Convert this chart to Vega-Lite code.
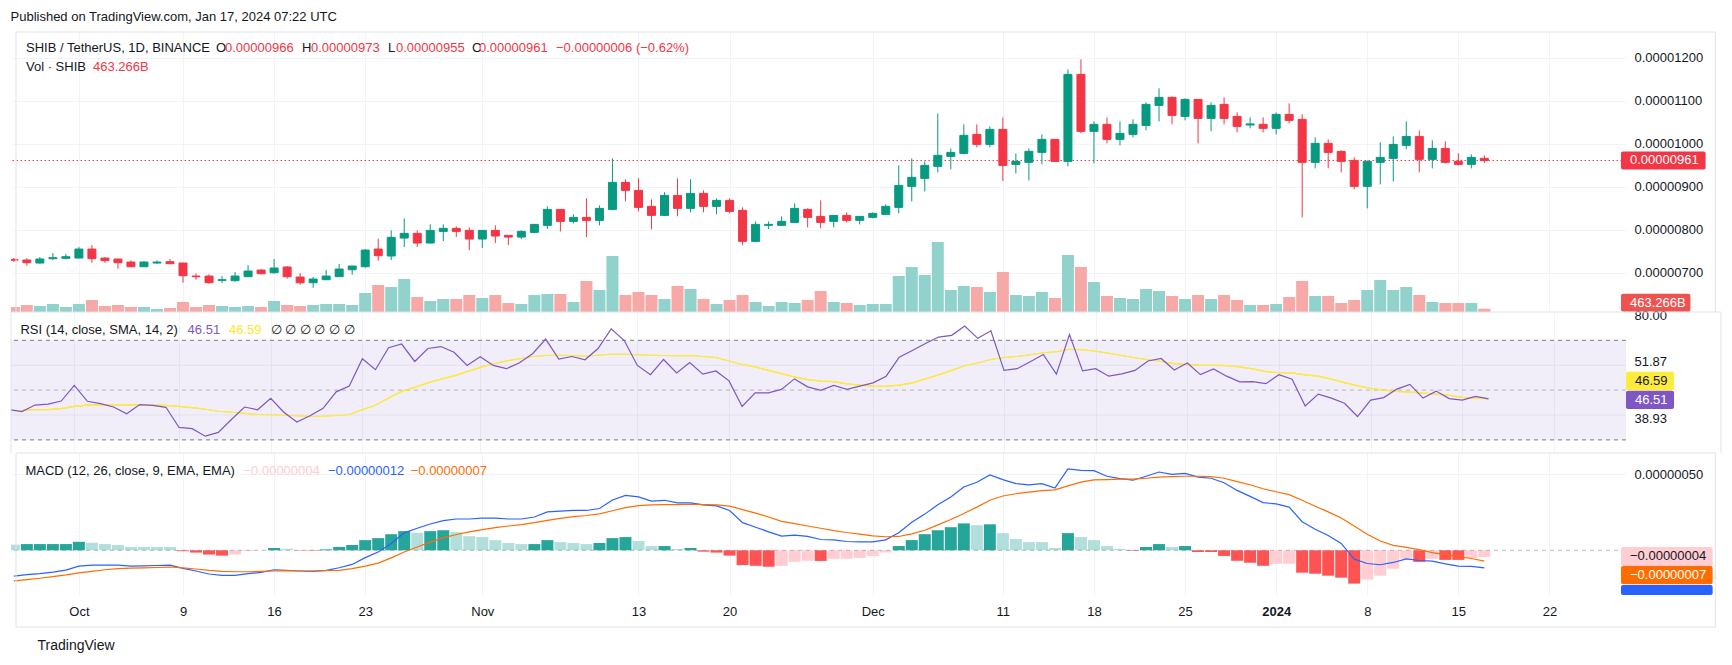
{
"$schema": "https://vega.github.io/schema/vega-lite/v6.json",
"padding": {"left": 10, "top": 10, "right": 0, "bottom": 0},
"background": "#ffffff",
"title": {"text": "Published on TradingView.com, Jan 17, 2024 07:22 UTC", "anchor": "start", "fontSize": 13, "fontWeight": "normal", "color": "#131722", "offset": 8},
"spacing": 0,
"bounds": "flush",
"resolve": {"scale": {"y": "independent", "color": "independent"}},
"datasets": {"k": [
{"d":"2023-09-26","o":731e-8,"h":734e-8,"l":725e-8,"c":729e-8,"v":700,"r":42.2,"s":41.8,"m":-17.0e-8,"g":-20.1e-8,"hv":3.7e-8,"hc":"pd"},
{"d":"2023-09-27","o":729.5e-8,"h":734e-8,"l":716.3e-8,"c":723.3e-8,"v":980,"r":41.4,"s":41.9,"m":-16.0e-8,"g":-19.3e-8,"hv":4.1e-8,"hc":"pu"},
{"d":"2023-09-28","o":722.5e-8,"h":736.4e-8,"l":721e-8,"c":731.8e-8,"v":840,"r":44.0,"s":42.2,"m":-15.4e-8,"g":-18.4e-8,"hv":4.1e-8,"hc":"pu"},
{"d":"2023-09-29","o":732.6e-8,"h":745.7e-8,"l":729.5e-8,"c":734.9e-8,"v":1120,"r":44.4,"s":42.2,"m":-14.3e-8,"g":-17.3e-8,"hv":4.1e-8,"hc":"pu"},
{"d":"2023-09-30","o":733.4e-8,"h":743.4e-8,"l":731e-8,"c":737.2e-8,"v":700,"r":45.6,"s":42.6,"m":-13.0e-8,"g":-16.2e-8,"hv":4.1e-8,"hc":"pu"},
{"d":"2023-10-01","o":734.1e-8,"h":759.7e-8,"l":733e-8,"c":755e-8,"v":1120,"r":51.9,"s":43.5,"m":-10.4e-8,"g":-14.9e-8,"hv":5.6e-8,"hc":"pu"},
{"d":"2023-10-02","o":755e-8,"h":764.3e-8,"l":723e-8,"c":732.6e-8,"v":1680,"r":45.5,"s":44.0,"m":-9.7e-8,"g":-13.9e-8,"hv":5.0e-8,"hc":"pd"},
{"d":"2023-10-03","o":734.1e-8,"h":736.4e-8,"l":723e-8,"c":728e-8,"v":840,"r":44.6,"s":44.2,"m":-9.7e-8,"g":-12.8e-8,"hv":4.1e-8,"hc":"pd"},
{"d":"2023-10-04","o":731.8e-8,"h":732e-8,"l":709.3e-8,"c":723.3e-8,"v":980,"r":43.2,"s":44.0,"m":-9.7e-8,"g":-12.1e-8,"hv":3.5e-8,"hc":"pd"},
{"d":"2023-10-05","o":724.8e-8,"h":728.7e-8,"l":713e-8,"c":713.9e-8,"v":700,"r":40.5,"s":44.0,"m":-10.4e-8,"g":-11.7e-8,"hv":2.2e-8,"hc":"pd"},
{"d":"2023-10-06","o":713.9e-8,"h":727.1e-8,"l":713e-8,"c":724.8e-8,"v":700,"r":44.2,"s":44.2,"m":-10.2e-8,"g":-11.5e-8,"hv":2.2e-8,"hc":"pd"},
{"d":"2023-10-07","o":722.5e-8,"h":728.7e-8,"l":720.2e-8,"c":724.8e-8,"v":420,"r":43.9,"s":44.0,"m":-10.0e-8,"g":-11.3e-8,"hv":2.2e-8,"hc":"pd"},
{"d":"2023-10-08","o":725.6e-8,"h":731.8e-8,"l":720e-8,"c":720.9e-8,"v":560,"r":43.1,"s":43.9,"m":-9.7e-8,"g":-11.0e-8,"hv":2.2e-8,"hc":"pd"},
{"d":"2023-10-09","o":722.5e-8,"h":723e-8,"l":676.7e-8,"c":693e-8,"v":1400,"r":35.0,"s":43.5,"m":-11.9e-8,"g":-11.5e-8,"hv":-0.6e-8,"hc":"nd"},
{"d":"2023-10-10","o":692.2e-8,"h":698.4e-8,"l":683.7e-8,"c":690.7e-8,"v":700,"r":34.5,"s":43.0,"m":-13.6e-8,"g":-12.3e-8,"hv":-1.5e-8,"hc":"nd"},
{"d":"2023-10-11","o":692.2e-8,"h":696.1e-8,"l":674.4e-8,"c":676.7e-8,"v":980,"r":31.5,"s":42.3,"m":-15.6e-8,"g":-13.2e-8,"hv":-2.8e-8,"hc":"nd"},
{"d":"2023-10-12","o":682.2e-8,"h":692.2e-8,"l":676e-8,"c":683.7e-8,"v":840,"r":33.0,"s":41.5,"m":-16.5e-8,"g":-13.9e-8,"hv":-3.5e-8,"hc":"nd"},
{"d":"2023-10-13","o":681.4e-8,"h":701.6e-8,"l":679e-8,"c":692.2e-8,"v":700,"r":38.2,"s":41.1,"m":-16.5e-8,"g":-14.1e-8,"hv":-2.8e-8,"hc":"nu"},
{"d":"2023-10-14","o":690.7e-8,"h":717.8e-8,"l":690e-8,"c":703.9e-8,"v":840,"r":43.2,"s":40.7,"m":-15.4e-8,"g":-14.1e-8,"hv":-0.6e-8,"hc":"nu"},
{"d":"2023-10-15","o":706.2e-8,"h":708.5e-8,"l":696e-8,"c":697.7e-8,"v":700,"r":42.1,"s":40.2,"m":-14.5e-8,"g":-13.9e-8,"hv":-0.2e-8,"hc":"nu"},
{"d":"2023-10-16","o":700e-8,"h":731.8e-8,"l":697.7e-8,"c":710.9e-8,"v":1540,"r":46.7,"s":40.1,"m":-12.8e-8,"g":-13.6e-8,"hv":1.5e-8,"hc":"pu"},
{"d":"2023-10-17","o":713.2e-8,"h":715.5e-8,"l":686e-8,"c":690.7e-8,"v":980,"r":41.1,"s":39.9,"m":-13.2e-8,"g":-13.4e-8,"hv":1.0e-8,"hc":"pd"},
{"d":"2023-10-18","o":689.9e-8,"h":699.2e-8,"l":672e-8,"c":676.7e-8,"v":840,"r":37.2,"s":39.7,"m":-13.6e-8,"g":-13.6e-8,"hv":-0.2e-8,"hc":"nd"},
{"d":"2023-10-19","o":676.7e-8,"h":690e-8,"l":665.1e-8,"c":685.3e-8,"v":980,"r":39.7,"s":39.5,"m":-13.9e-8,"g":-13.6e-8,"hv":-0.3e-8,"hc":"nd"},
{"d":"2023-10-20","o":683.7e-8,"h":706.2e-8,"l":683e-8,"c":692.2e-8,"v":1120,"r":42.7,"s":39.5,"m":-13.2e-8,"g":-13.4e-8,"hv":0.6e-8,"hc":"pu"},
{"d":"2023-10-21","o":690.7e-8,"h":720.2e-8,"l":690e-8,"c":708.5e-8,"v":1120,"r":49.3,"s":39.8,"m":-11.5e-8,"g":-13.2e-8,"hv":2.2e-8,"hc":"pu"},
{"d":"2023-10-22","o":707e-8,"h":716e-8,"l":695.3e-8,"c":715.5e-8,"v":980,"r":51.6,"s":40.2,"m":-9.3e-8,"g":-12.1e-8,"hv":3.5e-8,"hc":"pu"},
{"d":"2023-10-23","o":713.9e-8,"h":755e-8,"l":711.6e-8,"c":752.7e-8,"v":2660,"r":62.6,"s":42.1,"m":-4.8e-8,"g":-10.4e-8,"hv":6.7e-8,"hc":"pu"},
{"d":"2023-10-24","o":755e-8,"h":779e-8,"l":727.9e-8,"c":739.5e-8,"v":3780,"r":58.2,"s":43.9,"m":-1.1e-8,"g":-8.4e-8,"hv":8.0e-8,"hc":"pu"},
{"d":"2023-10-25","o":738.8e-8,"h":798.4e-8,"l":729.5e-8,"c":782.2e-8,"v":3500,"r":67.0,"s":46.8,"m":4.5e-8,"g":-5.0e-8,"hv":10.6e-8,"hc":"pu"},
{"d":"2023-10-26","o":780.6e-8,"h":826.4e-8,"l":759.7e-8,"c":791.5e-8,"v":4620,"r":68.5,"s":49.5,"m":11.5e-8,"g":-1.1e-8,"hv":12.6e-8,"hc":"pu"},
{"d":"2023-10-27","o":791.5e-8,"h":798.4e-8,"l":759.7e-8,"c":769e-8,"v":2100,"r":61.5,"s":51.1,"m":14.5e-8,"g":2.2e-8,"hv":11.5e-8,"hc":"pd"},
{"d":"2023-10-28","o":769e-8,"h":812.4e-8,"l":768e-8,"c":798.4e-8,"v":1540,"r":66.7,"s":52.9,"m":17.3e-8,"g":5.4e-8,"hv":12.6e-8,"hc":"pu"},
{"d":"2023-10-29","o":796.1e-8,"h":812.4e-8,"l":773.6e-8,"c":803.1e-8,"v":1820,"r":67.5,"s":54.4,"m":19.5e-8,"g":8.2e-8,"hv":13.2e-8,"hc":"pu"},
{"d":"2023-10-30","o":803.1e-8,"h":807.8e-8,"l":782.9e-8,"c":796.1e-8,"v":1820,"r":65.2,"s":55.7,"m":20.6e-8,"g":10.4e-8,"hv":11.9e-8,"hc":"pd"},
{"d":"2023-10-31","o":798.4e-8,"h":805.4e-8,"l":752.7e-8,"c":778.3e-8,"v":2380,"r":59.9,"s":57.4,"m":20.6e-8,"g":12.1e-8,"hv":9.3e-8,"hc":"pd"},
{"d":"2023-11-01","o":778.3e-8,"h":798.4e-8,"l":757.4e-8,"c":798.4e-8,"v":1960,"r":63.4,"s":59.1,"m":21.2e-8,"g":13.6e-8,"hv":8.7e-8,"hc":"pd"},
{"d":"2023-11-02","o":798.4e-8,"h":810.1e-8,"l":769e-8,"c":785.3e-8,"v":2380,"r":59.9,"s":60.6,"m":21.2e-8,"g":14.9e-8,"hv":6.7e-8,"hc":"pd"},
{"d":"2023-11-03","o":786.8e-8,"h":786.8e-8,"l":764.3e-8,"c":782.9e-8,"v":1260,"r":58.6,"s":61.7,"m":20.6e-8,"g":16.0e-8,"hv":4.8e-8,"hc":"pd"},
{"d":"2023-11-04","o":782.9e-8,"h":798.4e-8,"l":778.3e-8,"c":796.1e-8,"v":1120,"r":61.0,"s":62.6,"m":20.6e-8,"g":16.9e-8,"hv":4.1e-8,"hc":"pd"},
{"d":"2023-11-05","o":793.8e-8,"h":813e-8,"l":792.2e-8,"c":812.4e-8,"v":2380,"r":64.6,"s":63.5,"m":21.9e-8,"g":18.2e-8,"hv":4.1e-8,"hc":"pu"},
{"d":"2023-11-06","o":810.1e-8,"h":854.3e-8,"l":801.6e-8,"c":847.3e-8,"v":2520,"r":70.5,"s":63.9,"m":25.3e-8,"g":19.7e-8,"hv":6.7e-8,"hc":"pu"},
{"d":"2023-11-07","o":847.3e-8,"h":848e-8,"l":796.1e-8,"c":819.4e-8,"v":2520,"r":62.5,"s":64.0,"m":25.8e-8,"g":21.0e-8,"hv":5.4e-8,"hc":"pd"},
{"d":"2023-11-08","o":819.4e-8,"h":835.7e-8,"l":814.7e-8,"c":828.7e-8,"v":1400,"r":63.5,"s":63.9,"m":26.2e-8,"g":22.1e-8,"hv":4.8e-8,"hc":"pd"},
{"d":"2023-11-09","o":828.7e-8,"h":872.9e-8,"l":782.9e-8,"c":821.7e-8,"v":4340,"r":62.2,"s":63.6,"m":26.2e-8,"g":22.9e-8,"hv":4.1e-8,"hc":"pd"},
{"d":"2023-11-10","o":821.7e-8,"h":856.6e-8,"l":810.1e-8,"c":849.6e-8,"v":3080,"r":66.7,"s":64.0,"m":27.5e-8,"g":24.0e-8,"hv":4.8e-8,"hc":"pu"},
{"d":"2023-11-11","o":847.3e-8,"h":965.9e-8,"l":845e-8,"c":910.1e-8,"v":7840,"r":74.6,"s":64.4,"m":33.1e-8,"g":26.0e-8,"hv":8.0e-8,"hc":"pu"},
{"d":"2023-11-12","o":910.1e-8,"h":917.1e-8,"l":865.9e-8,"c":891.5e-8,"v":2380,"r":69.9,"s":64.4,"m":36.1e-8,"g":28.1e-8,"hv":8.7e-8,"hc":"pu"},
{"d":"2023-11-13","o":891.5e-8,"h":919.4e-8,"l":842.6e-8,"c":851.9e-8,"v":2800,"r":59.9,"s":64.2,"m":35.1e-8,"g":29.4e-8,"hv":6.1e-8,"hc":"pd"},
{"d":"2023-11-14","o":854.3e-8,"h":870.5e-8,"l":800.8e-8,"c":833.3e-8,"v":2380,"r":56.2,"s":64.0,"m":32.3e-8,"g":29.9e-8,"hv":2.8e-8,"hc":"pd"},
{"d":"2023-11-15","o":833.3e-8,"h":886.8e-8,"l":832e-8,"c":879.8e-8,"v":1820,"r":62.3,"s":63.9,"m":32.9e-8,"g":30.1e-8,"hv":2.8e-8,"hc":"pu"},
{"d":"2023-11-16","o":879.8e-8,"h":919.4e-8,"l":831e-8,"c":849.6e-8,"v":3640,"r":56.9,"s":63.8,"m":31.2e-8,"g":30.1e-8,"hv":0.9e-8,"hc":"pd"},
{"d":"2023-11-17","o":849.6e-8,"h":917.1e-8,"l":840.3e-8,"c":884.5e-8,"v":3220,"r":61.1,"s":63.9,"m":31.2e-8,"g":30.3e-8,"hv":1.5e-8,"hc":"pu"},
{"d":"2023-11-18","o":884.5e-8,"h":891.5e-8,"l":840.3e-8,"c":854.3e-8,"v":1820,"r":56.4,"s":63.5,"m":29.9e-8,"g":30.1e-8,"hv":-0.9e-8,"hc":"nd"},
{"d":"2023-11-19","o":854.3e-8,"h":872.9e-8,"l":835.7e-8,"c":868.2e-8,"v":1120,"r":57.7,"s":63.1,"m":29.2e-8,"g":29.9e-8,"hv":-1.5e-8,"hc":"nd"},
{"d":"2023-11-20","o":868.2e-8,"h":872.9e-8,"l":838e-8,"c":842.6e-8,"v":1680,"r":53.7,"s":61.7,"m":26.2e-8,"g":29.0e-8,"hv":-3.5e-8,"hc":"nd"},
{"d":"2023-11-21","o":845e-8,"h":852e-8,"l":763.6e-8,"c":772.9e-8,"v":2380,"r":43.4,"s":60.3,"m":18.2e-8,"g":26.8e-8,"hv":-9.7e-8,"hc":"nd"},
{"d":"2023-11-22","o":772.9e-8,"h":819.4e-8,"l":770.5e-8,"c":812.4e-8,"v":1400,"r":48.9,"s":59.3,"m":15.2e-8,"g":24.5e-8,"hv":-10.2e-8,"hc":"nd"},
{"d":"2023-11-23","o":810.1e-8,"h":819.4e-8,"l":801.6e-8,"c":812.4e-8,"v":840,"r":48.9,"s":57.9,"m":12.1e-8,"g":21.9e-8,"hv":-10.8e-8,"hc":"nd"},
{"d":"2023-11-24","o":810.1e-8,"h":831e-8,"l":809e-8,"c":819.4e-8,"v":1400,"r":50.3,"s":56.6,"m":9.3e-8,"g":19.0e-8,"hv":-10.2e-8,"hc":"nu"},
{"d":"2023-11-25","o":817e-8,"h":861.2e-8,"l":816e-8,"c":849.6e-8,"v":1260,"r":54.5,"s":55.3,"m":10.0e-8,"g":17.5e-8,"hv":-7.6e-8,"hc":"nu"},
{"d":"2023-11-26","o":847.3e-8,"h":849.6e-8,"l":805.4e-8,"c":828.7e-8,"v":1680,"r":51.3,"s":54.2,"m":9.1e-8,"g":16.0e-8,"hv":-6.9e-8,"hc":"nu"},
{"d":"2023-11-27","o":831e-8,"h":868.2e-8,"l":803.1e-8,"c":817e-8,"v":2940,"r":49.9,"s":53.6,"m":7.1e-8,"g":14.5e-8,"hv":-7.0e-8,"hc":"nd"},
{"d":"2023-11-28","o":819.4e-8,"h":833.3e-8,"l":805.4e-8,"c":833.3e-8,"v":1400,"r":51.9,"s":53.4,"m":6.9e-8,"g":13.0e-8,"hv":-5.6e-8,"hc":"nu"},
{"d":"2023-11-29","o":833.3e-8,"h":840.3e-8,"l":817e-8,"c":821.7e-8,"v":1260,"r":50.3,"s":52.5,"m":5.8e-8,"g":11.7e-8,"hv":-5.6e-8,"hc":"nu"},
{"d":"2023-11-30","o":821.7e-8,"h":831e-8,"l":812.4e-8,"c":831e-8,"v":980,"r":51.6,"s":52.0,"m":5.6e-8,"g":10.6e-8,"hv":-5.0e-8,"hc":"nu"},
{"d":"2023-12-01","o":828.7e-8,"h":840.3e-8,"l":826.4e-8,"c":838e-8,"v":1120,"r":52.9,"s":51.6,"m":5.6e-8,"g":9.5e-8,"hv":-3.7e-8,"hc":"nu"},
{"d":"2023-12-02","o":835.7e-8,"h":858.9e-8,"l":835e-8,"c":854.3e-8,"v":1120,"r":55.6,"s":51.5,"m":6.9e-8,"g":8.9e-8,"hv":-1.5e-8,"hc":"nu"},
{"d":"2023-12-03","o":851.9e-8,"h":949.6e-8,"l":838e-8,"c":903e-8,"v":5040,"r":63.2,"s":52.0,"m":11.5e-8,"g":9.1e-8,"hv":2.8e-8,"hc":"pu"},
{"d":"2023-12-04","o":900.8e-8,"h":965.9e-8,"l":865.9e-8,"c":921.7e-8,"v":6300,"r":65.9,"s":52.9,"m":18.4e-8,"g":10.8e-8,"hv":6.7e-8,"hc":"pu"},
{"d":"2023-12-05","o":919.4e-8,"h":958.9e-8,"l":889.1e-8,"c":949.6e-8,"v":5180,"r":68.7,"s":54.5,"m":23.8e-8,"g":13.2e-8,"hv":10.6e-8,"hc":"pu"},
{"d":"2023-12-06","o":947.3e-8,"h":1070.5e-8,"l":933.3e-8,"c":972.9e-8,"v":9800,"r":71.3,"s":56.1,"m":29.9e-8,"g":16.7e-8,"hv":13.2e-8,"hc":"pu"},
{"d":"2023-12-07","o":970.5e-8,"h":989.1e-8,"l":940.3e-8,"c":979.8e-8,"v":3080,"r":72.0,"s":57.9,"m":35.1e-8,"g":20.3e-8,"hv":15.2e-8,"hc":"pu"},
{"d":"2023-12-08","o":977.5e-8,"h":1045e-8,"l":975e-8,"c":1019.4e-8,"v":3640,"r":75.7,"s":59.8,"m":41.6e-8,"g":24.2e-8,"hv":17.7e-8,"hc":"pu"},
{"d":"2023-12-09","o":1021.7e-8,"h":1045e-8,"l":991.5e-8,"c":998.4e-8,"v":3500,"r":70.8,"s":60.9,"m":44.8e-8,"g":28.4e-8,"hv":16.5e-8,"hc":"pd"},
{"d":"2023-12-10","o":998.4e-8,"h":1040.3e-8,"l":991.5e-8,"c":1033.3e-8,"v":2800,"r":73.8,"s":62.3,"m":49.6e-8,"g":32.9e-8,"hv":17.1e-8,"hc":"pu"},
{"d":"2023-12-11","o":1033.3e-8,"h":1061.2e-8,"l":913.2e-8,"c":949.6e-8,"v":5600,"r":57.9,"s":63.1,"m":46.5e-8,"g":35.7e-8,"hv":11.3e-8,"hc":"pd"},
{"d":"2023-12-12","o":951.9e-8,"h":977.5e-8,"l":931e-8,"c":958.9e-8,"v":2380,"r":58.6,"s":63.5,"m":43.9e-8,"g":37.2e-8,"hv":7.4e-8,"hc":"pd"},
{"d":"2023-12-13","o":956.6e-8,"h":989.1e-8,"l":914.7e-8,"c":982.2e-8,"v":2240,"r":61.4,"s":64.2,"m":43.1e-8,"g":38.3e-8,"hv":5.4e-8,"hc":"pd"},
{"d":"2023-12-14","o":979.8e-8,"h":1021.7e-8,"l":951.9e-8,"c":1010.1e-8,"v":2800,"r":64.3,"s":65.0,"m":43.9e-8,"g":39.2e-8,"hv":5.4e-8,"hc":"pd"},
{"d":"2023-12-15","o":1010.1e-8,"h":1011e-8,"l":958e-8,"c":958.9e-8,"v":1960,"r":56.4,"s":65.4,"m":40.9e-8,"g":39.8e-8,"hv":1.5e-8,"hc":"pd"},
{"d":"2023-12-16","o":958.9e-8,"h":1172.9e-8,"l":947.3e-8,"c":1161.2e-8,"v":7980,"r":72.3,"s":66.4,"m":53.5e-8,"g":42.4e-8,"hv":11.3e-8,"hc":"pu"},
{"d":"2023-12-17","o":1161.2e-8,"h":1196.1e-8,"l":1024e-8,"c":1028.7e-8,"v":6300,"r":57.7,"s":66.2,"m":52.6e-8,"g":44.8e-8,"hv":8.7e-8,"hc":"pd"},
{"d":"2023-12-18","o":1028.7e-8,"h":1052e-8,"l":954.3e-8,"c":1045e-8,"v":4200,"r":58.6,"s":65.6,"m":52.4e-8,"g":46.3e-8,"hv":6.7e-8,"hc":"pd"},
{"d":"2023-12-19","o":1045e-8,"h":1061.2e-8,"l":1000.8e-8,"c":1010.1e-8,"v":2240,"r":55.6,"s":64.8,"m":48.7e-8,"g":46.5e-8,"hv":2.8e-8,"hc":"pd"},
{"d":"2023-12-20","o":1010.1e-8,"h":1052e-8,"l":996.1e-8,"c":1024e-8,"v":1960,"r":56.5,"s":63.9,"m":47.2e-8,"g":46.8e-8,"hv":0.9e-8,"hc":"pd"},
{"d":"2023-12-21","o":1021.7e-8,"h":1056.6e-8,"l":1014.7e-8,"c":1045e-8,"v":1820,"r":57.9,"s":63.0,"m":46.1e-8,"g":46.8e-8,"hv":-0.4e-8,"hc":"nd"},
{"d":"2023-12-22","o":1042.6e-8,"h":1096.1e-8,"l":1031e-8,"c":1091.5e-8,"v":3220,"r":61.7,"s":62.2,"m":48.7e-8,"g":47.4e-8,"hv":2.2e-8,"hc":"pu"},
{"d":"2023-12-23","o":1089.1e-8,"h":1128.7e-8,"l":1052e-8,"c":1107.8e-8,"v":2940,"r":62.7,"s":61.5,"m":51.5e-8,"g":48.1e-8,"hv":4.1e-8,"hc":"pu"},
{"d":"2023-12-24","o":1107.8e-8,"h":1110.1e-8,"l":1045e-8,"c":1065.9e-8,"v":2240,"r":58.1,"s":60.6,"m":50.0e-8,"g":48.5e-8,"hv":2.2e-8,"hc":"pd"},
{"d":"2023-12-25","o":1063.6e-8,"h":1105.4e-8,"l":1054.3e-8,"c":1103.1e-8,"v":1820,"r":60.9,"s":60.2,"m":50.6e-8,"g":48.7e-8,"hv":2.8e-8,"hc":"pu"},
{"d":"2023-12-26","o":1103.1e-8,"h":1104e-8,"l":1000.8e-8,"c":1058.9e-8,"v":2380,"r":56.2,"s":59.9,"m":48.1e-8,"g":48.7e-8,"hv":-1.1e-8,"hc":"nd"},
{"d":"2023-12-27","o":1058.9e-8,"h":1096.1e-8,"l":1028.7e-8,"c":1089.1e-8,"v":1820,"r":58.5,"s":59.9,"m":47.4e-8,"g":48.5e-8,"hv":-1.1e-8,"hc":"nd"},
{"d":"2023-12-28","o":1091.5e-8,"h":1107.8e-8,"l":1045e-8,"c":1058.9e-8,"v":2380,"r":55.6,"s":59.8,"m":44.4e-8,"g":47.4e-8,"hv":-3.7e-8,"hc":"nd"},
{"d":"2023-12-29","o":1063.6e-8,"h":1072.9e-8,"l":1026.4e-8,"c":1040.3e-8,"v":1680,"r":53.3,"s":59.3,"m":39.4e-8,"g":45.2e-8,"hv":-6.9e-8,"hc":"nd"},
{"d":"2023-12-30","o":1043.5e-8,"h":1061.2e-8,"l":1035.7e-8,"c":1046e-8,"v":980,"r":53.4,"s":58.5,"m":35.5e-8,"g":43.1e-8,"hv":-8.2e-8,"hc":"nd"},
{"d":"2023-12-31","o":1045e-8,"h":1061.2e-8,"l":1026.4e-8,"c":1035.7e-8,"v":980,"r":52.6,"s":57.4,"m":31.4e-8,"g":40.5e-8,"hv":-10.2e-8,"hc":"nd"},
{"d":"2024-01-01","o":1035.7e-8,"h":1072.9e-8,"l":1021.7e-8,"c":1068.2e-8,"v":1120,"r":56.2,"s":57.0,"m":30.5e-8,"g":38.5e-8,"hv":-8.9e-8,"hc":"nu"},
{"d":"2024-01-02","o":1068.2e-8,"h":1093.8e-8,"l":1047.3e-8,"c":1054.3e-8,"v":2100,"r":54.4,"s":56.9,"m":28.4e-8,"g":36.6e-8,"hv":-8.9e-8,"hc":"nu"},
{"d":"2024-01-03","o":1056.6e-8,"h":1068.2e-8,"l":828.7e-8,"c":956.6e-8,"v":4340,"r":43.6,"s":56.1,"m":18.8e-8,"g":32.9e-8,"hv":-14.7e-8,"hc":"nd"},
{"d":"2024-01-04","o":956.6e-8,"h":1014.7e-8,"l":942.6e-8,"c":1000.8e-8,"v":2240,"r":48.4,"s":55.6,"m":13.9e-8,"g":29.0e-8,"hv":-15.4e-8,"hc":"nd"},
{"d":"2024-01-05","o":1000.8e-8,"h":1010.1e-8,"l":942.6e-8,"c":979.8e-8,"v":2240,"r":46.8,"s":54.4,"m":9.7e-8,"g":25.3e-8,"hv":-16.7e-8,"hc":"nd"},
{"d":"2024-01-06","o":982.2e-8,"h":984.5e-8,"l":933.3e-8,"c":958.9e-8,"v":1260,"r":44.7,"s":53.0,"m":4.5e-8,"g":21.2e-8,"hv":-18.0e-8,"hc":"nd"},
{"d":"2024-01-07","o":961.2e-8,"h":968.2e-8,"l":893.8e-8,"c":900.8e-8,"v":1680,"r":39.4,"s":51.7,"m":-5.8e-8,"g":16.0e-8,"hv":-21.9e-8,"hc":"nd"},
{"d":"2024-01-08","o":900.8e-8,"h":961.2e-8,"l":849.6e-8,"c":958.9e-8,"v":3080,"r":46.0,"s":50.7,"m":-8.7e-8,"g":10.6e-8,"hv":-19.3e-8,"hc":"nu"},
{"d":"2024-01-09","o":956.6e-8,"h":1003.1e-8,"l":905.4e-8,"c":968.2e-8,"v":4480,"r":47.0,"s":50.0,"m":-9.5e-8,"g":6.1e-8,"hv":-16.7e-8,"hc":"nu"},
{"d":"2024-01-10","o":965.9e-8,"h":1017e-8,"l":912.4e-8,"c":998.4e-8,"v":3080,"r":50.4,"s":49.5,"m":-8.0e-8,"g":3.2e-8,"hv":-12.1e-8,"hc":"nu"},
{"d":"2024-01-11","o":996.1e-8,"h":1052e-8,"l":986.8e-8,"c":1017e-8,"v":3500,"r":52.3,"s":49.2,"m":-5.6e-8,"g":1.9e-8,"hv":-5.6e-8,"hc":"nu"},
{"d":"2024-01-12","o":1017e-8,"h":1031e-8,"l":933.3e-8,"c":963.6e-8,"v":2380,"r":46.8,"s":48.8,"m":-6.7e-8,"g":0.4e-8,"hv":-7.6e-8,"hc":"nd"},
{"d":"2024-01-13","o":963.6e-8,"h":1007.8e-8,"l":942.6e-8,"c":989.1e-8,"v":1400,"r":49.6,"s":48.4,"m":-7.1e-8,"g":-1.5e-8,"hv":-5.6e-8,"hc":"nu"},
{"d":"2024-01-14","o":989.1e-8,"h":1005.4e-8,"l":954.3e-8,"c":956.6e-8,"v":1260,"r":46.6,"s":47.9,"m":-8.9e-8,"g":-2.8e-8,"hv":-6.3e-8,"hc":"nd"},
{"d":"2024-01-15","o":958.9e-8,"h":977.5e-8,"l":949.6e-8,"c":951.9e-8,"v":1260,"r":46.0,"s":47.1,"m":-10.4e-8,"g":-4.1e-8,"hv":-6.3e-8,"hc":"nd"},
{"d":"2024-01-16","o":951.9e-8,"h":975.2e-8,"l":942.6e-8,"c":968.2e-8,"v":1260,"r":47.5,"s":46.8,"m":-10.6e-8,"g":-5.4e-8,"hv":-5.0e-8,"hc":"nu"},
{"d":"2024-01-17","o":966e-8,"h":973e-8,"l":955e-8,"c":961e-8,"v":463,"r":46.51,"s":46.59,"m":-11.5e-8,"g":-7.1e-8,"hv":-4.4e-8,"hc":"nu"}
]},
"vconcat": [
{
 "width": 1615, "height": 280,
 "data": {"name": "k"},
 "resolve": {"scale": {"y": "independent"}},
 "layer": [
  {"mark": {"type": "bar", "size": 12, "clip": true},
   "encoding": {
    "x": {"field": "d", "type": "temporal", "scale": {"type": "utc", "domain": [{"year":2023,"month":9,"date":26,"hours":4,"utc":true},{"year":2024,"month":1,"date":27,"hours":12,"utc":true}]},
      "axis": {"values": [{"year":2023,"month":10,"date":1,"utc":true},{"year":2023,"month":10,"date":9,"utc":true},{"year":2023,"month":10,"date":16,"utc":true},{"year":2023,"month":10,"date":23,"utc":true},{"year":2023,"month":11,"date":1,"utc":true},{"year":2023,"month":11,"date":13,"utc":true},{"year":2023,"month":11,"date":20,"utc":true},{"year":2023,"month":12,"date":1,"utc":true},{"year":2023,"month":12,"date":11,"utc":true},{"year":2023,"month":12,"date":18,"utc":true},{"year":2023,"month":12,"date":25,"utc":true},{"year":2024,"month":1,"date":1,"utc":true},{"year":2024,"month":1,"date":8,"utc":true},{"year":2024,"month":1,"date":15,"utc":true},{"year":2024,"month":1,"date":22,"utc":true}], "labels": false, "ticks": false, "domain": false, "grid": true, "gridColor": "#f0f3fa", "title": null}},
    "y": {"field": "v", "type": "quantitative", "scale": {"domain": [0, 39200], "nice": false}, "axis": null},
    "color": {"condition": {"test": "datum.c >= datum.o", "value": "#92D2CC"}, "value": "#F7A9A7"}
   }},
  {"layer": [
   {"data": {"values": [{}]}, "mark": {"type": "rule", "color": "#F23645", "strokeDash": [1.5, 2.5], "strokeWidth": 1},
    "encoding": {"y": {"datum": 961e-8, "type": "quantitative", "scale": {"domain": [608.6e-8, 1259.8e-8], "nice": false, "zero": false}}}},
   {"mark": {"type": "rule", "strokeWidth": 1, "clip": true},
    "encoding": {
     "x": {"field": "d", "type": "temporal"},
     "y": {"field": "h", "type": "quantitative", "scale": {"domain": [608.6e-8, 1259.8e-8], "nice": false, "zero": false},
       "axis": {"orient": "right", "values": [7e-6, 8e-6, 9e-6, 1e-5, 1.1e-5, 1.2e-5], "format": ".8f", "title": null, "domain": false, "ticks": false, "tickSize": 0, "labelPadding": 8, "grid": true, "gridColor": "#f0f3fa"}},
     "y2": {"field": "l"},
     "color": {"condition": {"test": "datum.c >= datum.o", "value": "#089981"}, "value": "#F23645"}
    }},
   {"mark": {"type": "bar", "size": 8, "strokeWidth": 1, "clip": true},
    "encoding": {
     "x": {"field": "d", "type": "temporal"},
     "y": {"field": "o", "type": "quantitative"},
     "y2": {"field": "c"},
     "color": {"condition": {"test": "datum.c >= datum.o", "value": "#089981"}, "value": "#F23645"},
     "stroke": {"condition": {"test": "datum.c >= datum.o", "value": "#089981"}, "value": "#F23645"}
    }},
   {"data": {"values": [{}]}, "mark": {"type": "rule", "color": "#e0e3eb", "strokeWidth": 1},
    "encoding": {"x": {"datum": {"year":2023,"month":9,"date":26,"hours":4,"utc":true}, "type": "temporal"}, "x2": {"datum": {"year":2024,"month":2,"date":3,"hours":18,"utc":true}}, "y": {"datum": 1259.8e-8, "type": "quantitative"}}},
   {"data": {"values": [{}]}, "mark": {"type": "rule", "color": "#e0e3eb", "strokeWidth": 1},
    "encoding": {"x": {"datum": {"year":2023,"month":9,"date":26,"hours":4,"utc":true}, "type": "temporal"}}},
   {"data": {"values": [{}]}, "mark": {"type": "rule", "color": "#e0e3eb", "strokeWidth": 1},
    "encoding": {"x": {"datum": {"year":2024,"month":2,"date":3,"hours":18,"utc":true}, "type": "temporal"}}},
   {"data": {"values": [{}]}, "mark": {"type": "text", "text": "SHIB / TetherUS, 1D, BINANCE", "align": "left", "baseline": "middle", "dx": 10, "fontSize": 13, "color": "#131722"},
    "encoding": {"x": {"datum": {"year":2023,"month":9,"date":26,"hours":4,"utc":true}, "type": "temporal"}, "y": {"datum": 1222.6e-8, "type": "quantitative"}}},
   {"data": {"values": [{}]}, "mark": {"type": "text", "text": "O", "align": "left", "baseline": "middle", "dx": 200, "fontSize": 13, "color": "#131722"},
    "encoding": {"x": {"datum": {"year":2023,"month":9,"date":26,"hours":4,"utc":true}, "type": "temporal"}, "y": {"datum": 1222.6e-8, "type": "quantitative"}}},
   {"data": {"values": [{}]}, "mark": {"type": "text", "text": "0.00000966", "align": "left", "baseline": "middle", "dx": 209, "fontSize": 13, "color": "#F23645"},
    "encoding": {"x": {"datum": {"year":2023,"month":9,"date":26,"hours":4,"utc":true}, "type": "temporal"}, "y": {"datum": 1222.6e-8, "type": "quantitative"}}},
   {"data": {"values": [{}]}, "mark": {"type": "text", "text": "H", "align": "left", "baseline": "middle", "dx": 286, "fontSize": 13, "color": "#131722"},
    "encoding": {"x": {"datum": {"year":2023,"month":9,"date":26,"hours":4,"utc":true}, "type": "temporal"}, "y": {"datum": 1222.6e-8, "type": "quantitative"}}},
   {"data": {"values": [{}]}, "mark": {"type": "text", "text": "0.00000973", "align": "left", "baseline": "middle", "dx": 295, "fontSize": 13, "color": "#F23645"},
    "encoding": {"x": {"datum": {"year":2023,"month":9,"date":26,"hours":4,"utc":true}, "type": "temporal"}, "y": {"datum": 1222.6e-8, "type": "quantitative"}}},
   {"data": {"values": [{}]}, "mark": {"type": "text", "text": "L", "align": "left", "baseline": "middle", "dx": 372, "fontSize": 13, "color": "#131722"},
    "encoding": {"x": {"datum": {"year":2023,"month":9,"date":26,"hours":4,"utc":true}, "type": "temporal"}, "y": {"datum": 1222.6e-8, "type": "quantitative"}}},
   {"data": {"values": [{}]}, "mark": {"type": "text", "text": "0.00000955", "align": "left", "baseline": "middle", "dx": 380, "fontSize": 13, "color": "#F23645"},
    "encoding": {"x": {"datum": {"year":2023,"month":9,"date":26,"hours":4,"utc":true}, "type": "temporal"}, "y": {"datum": 1222.6e-8, "type": "quantitative"}}},
   {"data": {"values": [{}]}, "mark": {"type": "text", "text": "C", "align": "left", "baseline": "middle", "dx": 456, "fontSize": 13, "color": "#131722"},
    "encoding": {"x": {"datum": {"year":2023,"month":9,"date":26,"hours":4,"utc":true}, "type": "temporal"}, "y": {"datum": 1222.6e-8, "type": "quantitative"}}},
   {"data": {"values": [{}]}, "mark": {"type": "text", "text": "0.00000961", "align": "left", "baseline": "middle", "dx": 463, "fontSize": 13, "color": "#F23645"},
    "encoding": {"x": {"datum": {"year":2023,"month":9,"date":26,"hours":4,"utc":true}, "type": "temporal"}, "y": {"datum": 1222.6e-8, "type": "quantitative"}}},
   {"data": {"values": [{}]}, "mark": {"type": "text", "text": "−0.00000006 (−0.62%)", "align": "left", "baseline": "middle", "dx": 540, "fontSize": 13, "color": "#F23645"},
    "encoding": {"x": {"datum": {"year":2023,"month":9,"date":26,"hours":4,"utc":true}, "type": "temporal"}, "y": {"datum": 1222.6e-8, "type": "quantitative"}}},
   {"data": {"values": [{}]}, "mark": {"type": "text", "text": "Vol · SHIB", "align": "left", "baseline": "middle", "dx": 10, "fontSize": 13, "color": "#131722"},
    "encoding": {"x": {"datum": {"year":2023,"month":9,"date":26,"hours":4,"utc":true}, "type": "temporal"}, "y": {"datum": 1178.4e-8, "type": "quantitative"}}},
   {"data": {"values": [{}]}, "mark": {"type": "text", "text": "463.266B", "align": "left", "baseline": "middle", "dx": 77, "fontSize": 13, "color": "#F23645"},
    "encoding": {"x": {"datum": {"year":2023,"month":9,"date":26,"hours":4,"utc":true}, "type": "temporal"}, "y": {"datum": 1178.4e-8, "type": "quantitative"}}},
   {"data": {"values": [{}]}, "mark": {"type": "rect", "color": "#F23645", "cornerRadius": 2},
    "encoding": {"x": {"datum": {"year":2024,"month":1,"date":27,"hours":12,"utc":true}, "type": "temporal"}, "x2": {"datum": {"year":2024,"month":2,"date":3,"hours":0,"utc":true}}, "y": {"datum": 982e-8, "type": "quantitative"}, "y2": {"datum": 940e-8}}},
   {"data": {"values": [{}]}, "mark": {"type": "text", "text": "0.00000961", "align": "left", "baseline": "middle", "dx": 9, "fontSize": 13, "color": "#ffffff"},
    "encoding": {"x": {"datum": {"year":2024,"month":1,"date":27,"hours":12,"utc":true}, "type": "temporal"}, "y": {"datum": 961e-8, "type": "quantitative"}}},
   {"data": {"values": [{}]}, "mark": {"type": "rect", "color": "#EF5350", "cornerRadius": 2},
    "encoding": {"x": {"datum": {"year":2024,"month":1,"date":27,"hours":12,"utc":true}, "type": "temporal"}, "x2": {"datum": {"year":2024,"month":2,"date":1,"hours":20,"utc":true}}, "y": {"datum": 651.2e-8, "type": "quantitative"}, "y2": {"datum": 609.3e-8}}},
   {"data": {"values": [{}]}, "mark": {"type": "text", "text": "463.266B", "align": "left", "baseline": "middle", "dx": 9, "fontSize": 13, "color": "#ffffff"},
    "encoding": {"x": {"datum": {"year":2024,"month":1,"date":27,"hours":12,"utc":true}, "type": "temporal"}, "y": {"datum": 630.3e-8, "type": "quantitative"}}}
  ]}
 ]
},
{
 "width": 1615, "height": 141,
 "data": {"name": "k"},
 "layer": [
  {"mark": {"type": "line", "color": "#FFEB3B", "strokeWidth": 1.2, "clip": true},
   "encoding": {
    "x": {"field": "d", "type": "temporal", "scale": {"type": "utc", "domain": [{"year":2023,"month":9,"date":26,"hours":4,"utc":true},{"year":2024,"month":1,"date":27,"hours":12,"utc":true}]},
      "axis": {"values": [{"year":2023,"month":10,"date":1,"utc":true},{"year":2023,"month":10,"date":9,"utc":true},{"year":2023,"month":10,"date":16,"utc":true},{"year":2023,"month":10,"date":23,"utc":true},{"year":2023,"month":11,"date":1,"utc":true},{"year":2023,"month":11,"date":13,"utc":true},{"year":2023,"month":11,"date":20,"utc":true},{"year":2023,"month":12,"date":1,"utc":true},{"year":2023,"month":12,"date":11,"utc":true},{"year":2023,"month":12,"date":18,"utc":true},{"year":2023,"month":12,"date":25,"utc":true},{"year":2024,"month":1,"date":1,"utc":true},{"year":2024,"month":1,"date":8,"utc":true},{"year":2024,"month":1,"date":15,"utc":true},{"year":2024,"month":1,"date":22,"utc":true}], "labels": false, "ticks": false, "domain": false, "grid": true, "gridColor": "#f0f3fa", "title": null}},
    "y": {"field": "s", "type": "quantitative", "scale": {"domain": [24.74, 81.37], "nice": false, "zero": false},
      "axis": {"orient": "right", "values": [80, 61.4, 38.5], "labelExpr": "datum.value == 80 ? '80.00' : (datum.value > 50 ? '51.87' : '38.93')", "title": null, "domain": false, "ticks": false, "tickSize": 0, "labelPadding": 8, "grid": false}}
   }},
  {"data": {"values": [{}]}, "mark": {"type": "rect", "color": "#7E57C2", "opacity": 0.1},
   "encoding": {"x": {"datum": {"year":2023,"month":9,"date":26,"hours":4,"utc":true}, "type": "temporal"}, "x2": {"datum": {"year":2024,"month":1,"date":27,"hours":12,"utc":true}}, "y": {"datum": 70, "type": "quantitative"}, "y2": {"datum": 30}}},
  {"data": {"values": [{"lv": 60}, {"lv": 40}]}, "mark": {"type": "rule", "color": "#e3dfee", "strokeWidth": 1},
   "encoding": {"y": {"field": "lv", "type": "quantitative"}}},
  {"data": {"values": [{"lv": 70}, {"lv": 30}]}, "mark": {"type": "rule", "color": "#787B86", "strokeDash": [4, 4], "strokeWidth": 1},
   "encoding": {"y": {"field": "lv", "type": "quantitative"}}},
  {"data": {"values": [{"lv": 50}]}, "mark": {"type": "rule", "color": "#787B86", "opacity": 0.5, "strokeDash": [4, 4], "strokeWidth": 1},
   "encoding": {"y": {"field": "lv", "type": "quantitative"}}},
  {"mark": {"type": "line", "color": "#FFEB3B", "strokeWidth": 1.2, "clip": true},
   "encoding": {"x": {"field": "d", "type": "temporal"}, "y": {"field": "s", "type": "quantitative"}}},
  {"mark": {"type": "line", "color": "#7E57C2", "strokeWidth": 1.2, "clip": true},
   "encoding": {"x": {"field": "d", "type": "temporal"}, "y": {"field": "r", "type": "quantitative"}}},
  {"data": {"values": [{}]}, "mark": {"type": "rule", "color": "#e0e3eb", "strokeWidth": 1},
   "encoding": {"x": {"datum": {"year":2023,"month":9,"date":26,"hours":4,"utc":true}, "type": "temporal"}, "x2": {"datum": {"year":2024,"month":2,"date":3,"hours":18,"utc":true}}, "y": {"datum": 81.37, "type": "quantitative"}}},
  {"data": {"values": [{}]}, "mark": {"type": "rule", "color": "#e0e3eb", "strokeWidth": 1},
   "encoding": {"x": {"datum": {"year":2023,"month":9,"date":26,"hours":4,"utc":true}, "type": "temporal"}}},
  {"data": {"values": [{}]}, "mark": {"type": "rule", "color": "#e0e3eb", "strokeWidth": 1},
   "encoding": {"x": {"datum": {"year":2024,"month":2,"date":3,"hours":18,"utc":true}, "type": "temporal"}}},
  {"data": {"values": [{}]}, "mark": {"type": "text", "text": "RSI (14, close, SMA, 14, 2)", "align": "left", "baseline": "middle", "dx": 9.4, "fontSize": 13, "color": "#131722"},
   "encoding": {"x": {"datum": {"year":2023,"month":9,"date":26,"hours":4,"utc":true}, "type": "temporal"}, "y": {"datum": 74.1, "type": "quantitative"}}},
  {"data": {"values": [{}]}, "mark": {"type": "text", "text": "46.51", "align": "left", "baseline": "middle", "dx": 176.6, "fontSize": 13, "color": "#7E57C2"},
   "encoding": {"x": {"datum": {"year":2023,"month":9,"date":26,"hours":4,"utc":true}, "type": "temporal"}, "y": {"datum": 74.1, "type": "quantitative"}}},
  {"data": {"values": [{}]}, "mark": {"type": "text", "text": "46.59", "align": "left", "baseline": "middle", "dx": 218, "fontSize": 13, "color": "#FFE629"},
   "encoding": {"x": {"datum": {"year":2023,"month":9,"date":26,"hours":4,"utc":true}, "type": "temporal"}, "y": {"datum": 74.1, "type": "quantitative"}}},
  {"data": {"values": [{}]}, "mark": {"type": "text", "text": "∅  ∅  ∅  ∅  ∅  ∅", "align": "left", "baseline": "middle", "dx": 259.5, "fontSize": 13, "color": "#131722"},
   "encoding": {"x": {"datum": {"year":2023,"month":9,"date":26,"hours":4,"utc":true}, "type": "temporal"}, "y": {"datum": 74.1, "type": "quantitative"}}},
  {"data": {"values": [{}]}, "mark": {"type": "rect", "color": "#FFEB3B", "cornerRadius": 2},
   "encoding": {"x": {"datum": {"year":2024,"month":1,"date":27,"hours":12,"utc":true}, "type": "temporal"}, "x2": {"datum": {"year":2024,"month":1,"date":31,"hours":4,"utc":true}}, "y": {"datum": 57.4, "type": "quantitative"}, "y2": {"datum": 49.9}}},
  {"data": {"values": [{}]}, "mark": {"type": "text", "text": "46.59", "align": "left", "baseline": "middle", "dx": 9, "fontSize": 13, "color": "#131722"},
   "encoding": {"x": {"datum": {"year":2024,"month":1,"date":27,"hours":12,"utc":true}, "type": "temporal"}, "y": {"datum": 53.65, "type": "quantitative"}}},
  {"data": {"values": [{}]}, "mark": {"type": "rect", "color": "#7E57C2", "cornerRadius": 2},
   "encoding": {"x": {"datum": {"year":2024,"month":1,"date":27,"hours":12,"utc":true}, "type": "temporal"}, "x2": {"datum": {"year":2024,"month":1,"date":31,"hours":4,"utc":true}}, "y": {"datum": 49.76, "type": "quantitative"}, "y2": {"datum": 42.4}}},
  {"data": {"values": [{}]}, "mark": {"type": "text", "text": "46.51", "align": "left", "baseline": "middle", "dx": 9, "fontSize": 13, "color": "#ffffff"},
   "encoding": {"x": {"datum": {"year":2024,"month":1,"date":27,"hours":12,"utc":true}, "type": "temporal"}, "y": {"datum": 46.08, "type": "quantitative"}}}
 ]
},
{
 "width": 1615, "height": 142,
 "data": {"name": "k"},
 "title": {"text": "TradingView", "orient": "bottom", "anchor": "start", "fontSize": 14, "fontWeight": "normal", "color": "#131722", "offset": 11, "dx": 27},
 "layer": [
  {"mark": {"type": "bar", "size": 12, "clip": true},
   "encoding": {
    "x": {"field": "d", "type": "temporal", "scale": {"type": "utc", "domain": [{"year":2023,"month":9,"date":26,"hours":4,"utc":true},{"year":2024,"month":1,"date":27,"hours":12,"utc":true}]},
      "axis": {"values": [{"year":2023,"month":10,"date":1,"utc":true},{"year":2023,"month":10,"date":9,"utc":true},{"year":2023,"month":10,"date":16,"utc":true},{"year":2023,"month":10,"date":23,"utc":true},{"year":2023,"month":11,"date":1,"utc":true},{"year":2023,"month":11,"date":13,"utc":true},{"year":2023,"month":11,"date":20,"utc":true},{"year":2023,"month":12,"date":1,"utc":true},{"year":2023,"month":12,"date":11,"utc":true},{"year":2023,"month":12,"date":18,"utc":true},{"year":2023,"month":12,"date":25,"utc":true},{"year":2024,"month":1,"date":1,"utc":true},{"year":2024,"month":1,"date":8,"utc":true},{"year":2024,"month":1,"date":15,"utc":true},{"year":2024,"month":1,"date":22,"utc":true}],
        "labelExpr": "utcdate(datum.value) == 1 ? (utcmonth(datum.value) == 0 ? utcFormat(datum.value, '%Y') : utcFormat(datum.value, '%b')) : utcFormat(datum.value, '%-d')",
        "labelFontWeight": {"condition": {"test": "utcmonth(datum.value) == 0 && utcdate(datum.value) == 1", "value": "bold"}, "value": "normal"},
        "ticks": false, "tickSize": 0, "domain": false, "grid": true, "gridColor": "#f0f3fa", "title": null, "labelPadding": 10, "labelFlush": false, "labelOverlap": false}},
    "y": {"field": "hv", "type": "quantitative", "scale": {"domain": [-29.4e-8, 64.0e-8], "nice": false, "zero": false},
      "axis": {"orient": "right", "values": [5e-7], "format": ".8f", "title": null, "domain": false, "ticks": false, "tickSize": 0, "labelPadding": 8, "grid": true, "gridColor": "#f0f3fa"}},
    "y2": {"datum": 0},
    "color": {"field": "hc", "type": "nominal", "scale": {"domain": ["pu", "pd", "nd", "nu"], "range": ["#26A69A", "#B2DFDB", "#FF5252", "#FFCDD2"]}, "legend": null}
   }},
  {"data": {"values": [{}]}, "mark": {"type": "rule", "color": "#787B86", "opacity": 0.5, "strokeDash": [4, 4], "strokeWidth": 1},
   "encoding": {"y": {"datum": 0, "type": "quantitative"}}},
  {"mark": {"type": "line", "color": "#2962FF", "strokeWidth": 1.2, "clip": true},
   "encoding": {"x": {"field": "d", "type": "temporal"}, "y": {"field": "m", "type": "quantitative"}}},
  {"mark": {"type": "line", "color": "#FF6D00", "strokeWidth": 1.2, "clip": true},
   "encoding": {"x": {"field": "d", "type": "temporal"}, "y": {"field": "g", "type": "quantitative"}}},
  {"data": {"values": [{}]}, "mark": {"type": "rule", "color": "#e0e3eb", "strokeWidth": 1},
   "encoding": {"x": {"datum": {"year":2023,"month":9,"date":26,"hours":4,"utc":true}, "type": "temporal"}, "x2": {"datum": {"year":2024,"month":2,"date":3,"hours":18,"utc":true}}, "y": {"datum": 64.0e-8, "type": "quantitative"}}},
  {"data": {"values": [{}]}, "mark": {"type": "rule", "color": "#e0e3eb", "strokeWidth": 1},
   "encoding": {"x": {"datum": {"year":2023,"month":9,"date":26,"hours":4,"utc":true}, "type": "temporal"}, "x2": {"datum": {"year":2024,"month":2,"date":3,"hours":18,"utc":true}}, "y": {"datum": -50.5e-8, "type": "quantitative"}}},
  {"data": {"values": [{}]}, "mark": {"type": "rule", "color": "#e0e3eb", "strokeWidth": 1},
   "encoding": {"x": {"datum": {"year":2023,"month":9,"date":26,"hours":4,"utc":true}, "type": "temporal"}, "y": {"datum": 64.0e-8, "type": "quantitative"}, "y2": {"datum": -50.5e-8}}},
  {"data": {"values": [{}]}, "mark": {"type": "rule", "color": "#e0e3eb", "strokeWidth": 1},
   "encoding": {"x": {"datum": {"year":2024,"month":2,"date":3,"hours":18,"utc":true}, "type": "temporal"}, "y": {"datum": 64.0e-8, "type": "quantitative"}, "y2": {"datum": -50.5e-8}}},
  {"data": {"values": [{}]}, "mark": {"type": "text", "text": "MACD (12, 26, close, 9, EMA, EMA)", "align": "left", "baseline": "middle", "dx": 9.4, "fontSize": 13, "color": "#131722"},
   "encoding": {"x": {"datum": {"year":2023,"month":9,"date":26,"hours":4,"utc":true}, "type": "temporal"}, "y": {"datum": 52.0e-8, "type": "quantitative"}}},
  {"data": {"values": [{}]}, "mark": {"type": "text", "text": "−0.00000004", "align": "left", "baseline": "middle", "dx": 227.5, "fontSize": 13, "color": "#FFCDD2"},
   "encoding": {"x": {"datum": {"year":2023,"month":9,"date":26,"hours":4,"utc":true}, "type": "temporal"}, "y": {"datum": 52.0e-8, "type": "quantitative"}}},
  {"data": {"values": [{}]}, "mark": {"type": "text", "text": "−0.00000012", "align": "left", "baseline": "middle", "dx": 312, "fontSize": 13, "color": "#2962FF"},
   "encoding": {"x": {"datum": {"year":2023,"month":9,"date":26,"hours":4,"utc":true}, "type": "temporal"}, "y": {"datum": 52.0e-8, "type": "quantitative"}}},
  {"data": {"values": [{}]}, "mark": {"type": "text", "text": "−0.00000007", "align": "left", "baseline": "middle", "dx": 394.7, "fontSize": 13, "color": "#FF6D00"},
   "encoding": {"x": {"datum": {"year":2023,"month":9,"date":26,"hours":4,"utc":true}, "type": "temporal"}, "y": {"datum": 52.0e-8, "type": "quantitative"}}},
  {"data": {"values": [{}]}, "mark": {"type": "rect", "color": "#FFCDD2", "cornerRadius": 2},
   "encoding": {"x": {"datum": {"year":2024,"month":1,"date":27,"hours":12,"utc":true}, "type": "temporal"}, "x2": {"datum": {"year":2024,"month":2,"date":3,"hours":13,"utc":true}}, "y": {"datum": 2.17e-8, "type": "quantitative"}, "y2": {"datum": -10.3e-8}}},
  {"data": {"values": [{}]}, "mark": {"type": "text", "text": "−0.00000004", "align": "left", "baseline": "middle", "dx": 9, "fontSize": 13, "color": "#131722"},
   "encoding": {"x": {"datum": {"year":2024,"month":1,"date":27,"hours":12,"utc":true}, "type": "temporal"}, "y": {"datum": -4.07e-8, "type": "quantitative"}}},
  {"data": {"values": [{}]}, "mark": {"type": "rect", "color": "#FF6D00", "cornerRadius": 2},
   "encoding": {"x": {"datum": {"year":2024,"month":1,"date":27,"hours":12,"utc":true}, "type": "temporal"}, "x2": {"datum": {"year":2024,"month":2,"date":3,"hours":13,"utc":true}}, "y": {"datum": -10.3e-8, "type": "quantitative"}, "y2": {"datum": -22.4e-8}}},
  {"data": {"values": [{}]}, "mark": {"type": "text", "text": "−0.00000007", "align": "left", "baseline": "middle", "dx": 9, "fontSize": 13, "color": "#ffffff"},
   "encoding": {"x": {"datum": {"year":2024,"month":1,"date":27,"hours":12,"utc":true}, "type": "temporal"}, "y": {"datum": -16.35e-8, "type": "quantitative"}}},
  {"data": {"values": [{}]}, "mark": {"type": "rect", "color": "#2962FF", "cornerRadius": 2},
   "encoding": {"x": {"datum": {"year":2024,"month":1,"date":27,"hours":12,"utc":true}, "type": "temporal"}, "x2": {"datum": {"year":2024,"month":2,"date":3,"hours":13,"utc":true}}, "y": {"datum": -22.8e-8, "type": "quantitative"}, "y2": {"datum": -29.4e-8}}}
 ]
}
],
"config": {
 "font": "Liberation Sans",
 "view": {"stroke": null},
 "axis": {"labelColor": "#131722", "labelFontSize": 13, "labelFont": "Liberation Sans"},
 "title": {"font": "Liberation Sans"}
}
}
